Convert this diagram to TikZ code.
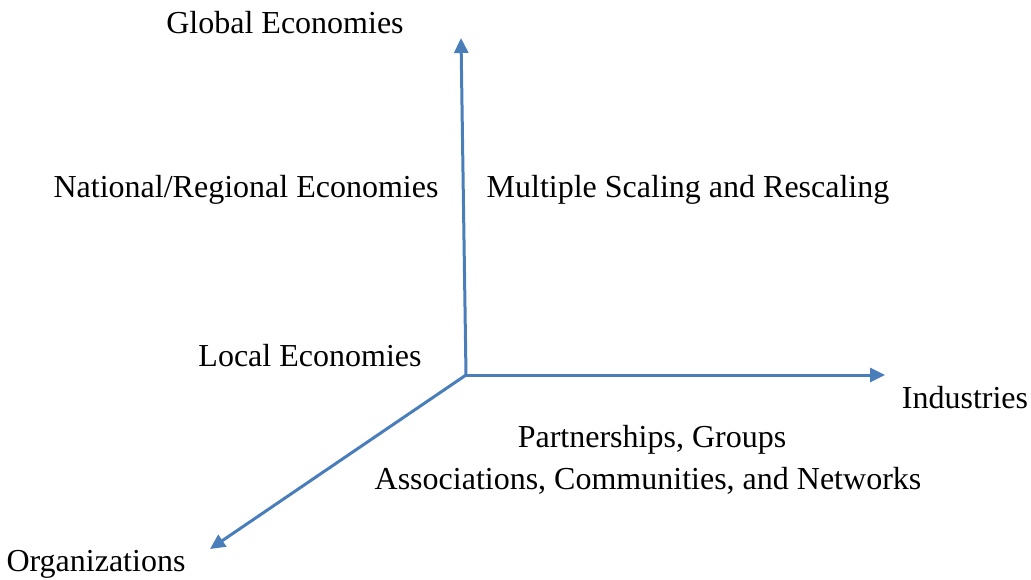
\documentclass[tikz,border=0pt]{standalone}
\usepackage{fontspec}
\setmainfont{Liberation Serif}
\usepackage{xcolor}
\usepackage{tikz}
\usetikzlibrary{arrows.meta, positioning}

\definecolor{axisblue}{RGB}{74,126,187}

\begin{document}
\begin{tikzpicture}[
    x=0.5pt, y=-0.5pt,
    font=\fontsize{16}{19}\selectfont,
    >={Triangle[length=7.5pt,width=7pt]},
    axis/.style={
        ->,
        line width=1.5pt,
        draw=axisblue
    },
    label/.style={
        inner sep=0pt,
        anchor=center
    }
]

\useasboundingbox (0,0) rectangle (1031,579);

% --- Axes --------------------------------------------------------------------

\coordinate (origin) at (466,375);
\coordinate (scaletop) at (461,38);
\coordinate (industryend) at (885,375);
\coordinate (orgend) at (210,549);

\draw[axis] (origin) -- (scaletop);
\draw[axis] (origin) -- (industryend);
\draw[axis] (origin) -- (orgend);

% --- Labels ------------------------------------------------------------------

\node[label] (global) at (285,23) {Global Economies};
\node[label] (national) at (246,190) {National/Regional Economies};
\node[label] (multiple) at (688,190) {Multiple Scaling and Rescaling};
\node[label] (local) at (310,356) {Local Economies};
\node[label] (industries) at (965,398) {Industries};
\node[label] (partners) at (652,440) {Partnerships, Groups};
\node[label] (assoc) at (648,481) {Associations, Communities, and Networks};
\node[label] (orgs) at (96,564) {Organizations};

\end{tikzpicture}
\end{document}
